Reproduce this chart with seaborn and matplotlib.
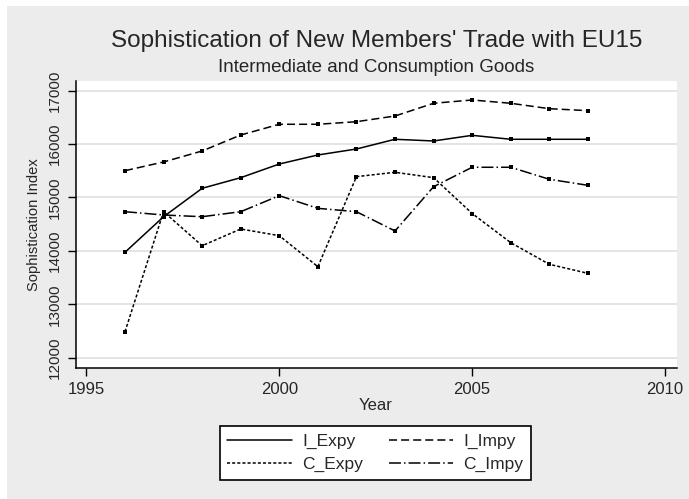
import numpy as np
import pandas as pd
import matplotlib
matplotlib.use("Agg")
import matplotlib.pyplot as plt
import seaborn as sns
from matplotlib.lines import Line2D
from matplotlib.patches import Rectangle

# ---- data ----
years = list(range(1996, 2009))
i_expy = [13974, 14640, 15172, 15371, 15627, 15796, 15908, 16090, 16058, 16164, 16090, 16090, 16090]
i_impy = [15502, 15665, 15871, 16170, 16371, 16371, 16419, 16526, 16764, 16826, 16764, 16663, 16626]
c_expy = [12487, 14734, 14097, 14410, 14285, 13704, 15390, 15472, 15371, 14700, 14154, 13749, 13580]
c_impy = [14734, 14672, 14640, 14734, 15034, 14797, 14734, 14373, 15202, 15566, 15566, 15341, 15228]
series_names = ["I_Expy", "I_Impy", "C_Expy", "C_Impy"]
x_ticks = [1995, 2000, 2005, 2010]
y_ticks = [12000, 13000, 14000, 15000, 16000, 17000]

title = "Sophistication of New Members' Trade with EU15"
subtitle = "Intermediate and Consumption Goods"

df = pd.DataFrame({"Year": years, "I_Expy": i_expy, "I_Impy": i_impy,
                   "C_Expy": c_expy, "C_Impy": c_impy})
long = df.melt(id_vars="Year", var_name="Series", value_name="Index")

sns.set_theme(style="white")
plt.rcParams["font.family"] = ["Liberation Sans", "DejaVu Sans"]
plt.rcParams["lines.scale_dashes"] = False

BG = "#ececec"
W, H = 689, 499
fig = plt.figure(figsize=(W / 100, H / 100), dpi=100, facecolor="white")
fig.patches.append(Rectangle((7 / W, 0), 1, (H - 6) / H, transform=fig.transFigure,
                             facecolor=BG, edgecolor="none", zorder=-10))

left, right, top, bottom = 76, 677, 80.7, 368
ax = fig.add_axes([left / W, 1 - bottom / H, (right - left) / W, (bottom - top) / H])
ax.set_facecolor("white")

dash_map = {"I_Expy": "", "I_Impy": (5.8, 2.9), "C_Expy": (2.2, 1.5), "C_Impy": (8.6, 2.2, 1.1, 2.2)}
marker_map = {s: "s" for s in series_names}

sns.lineplot(data=long, x="Year", y="Index", style="Series", style_order=series_names,
             dashes=dash_map, markers=marker_map, color="black", linewidth=1.1,
             markersize=2.6, markeredgewidth=0, legend=False, ax=ax, zorder=3)

ax.set_xlim(1994.73, 2010.31)
ax.set_ylim(11807, 17187)
ax.set_xticks(x_ticks)
ax.set_yticks(y_ticks)
ax.yaxis.grid(True, color="#e2e2e2", linewidth=1.3)
ax.xaxis.grid(False)
ax.set_axisbelow(True)

for s in ["top", "right"]:
    ax.spines[s].set_visible(False)
for s in ["left", "bottom"]:
    ax.spines[s].set_color("black")
    ax.spines[s].set_linewidth(1.1)

ax.tick_params(axis="x", direction="out", length=6, width=1.0, color="black",
               labelsize=12, pad=4, bottom=True)
ax.tick_params(axis="y", direction="out", length=6, width=1.0, color="black",
               labelsize=11, pad=4, left=True, labelrotation=90)
for lab in ax.get_yticklabels():
    lab.set_va("center")

ax.set_xlabel("Year", fontsize=12, va="baseline")
ax.xaxis.set_label_coords(0.498, (bottom - 410) / (bottom - top))
ax.set_ylabel("Sophistication Index", fontsize=10.6, va="center")
ax.yaxis.set_label_coords((34.5 - left) / (right - left), 0.5)

cx = (left + right) / 2 / W
fig.text(cx, 1 - 47 / H, title, ha="center", va="baseline", fontsize=17.5)
fig.text(cx, 1 - 72 / H, subtitle, ha="center", va="baseline", fontsize=13.5)

handle_map = {}
for s in series_names:
    d = dash_map[s]
    if d == "":
        h = Line2D([], [], color="black", lw=1.1, linestyle="-")
    else:
        h = Line2D([], [], color="black", lw=1.1, dashes=d)
    handle_map[s] = h

# row-wise order: matplotlib fills legend columns first
leg_order = ["I_Expy", "C_Expy", "I_Impy", "C_Impy"]
leg = fig.legend([handle_map[s] for s in leg_order], leg_order, ncol=2, loc="center",
                 bbox_to_anchor=(375.5 / W, 1 - 453 / H), frameon=True, fancybox=False,
                 edgecolor="black", facecolor="white", framealpha=1, fontsize=12.5,
                 handlelength=3.7, handletextpad=0.6, columnspacing=1.5,
                 labelspacing=0.45, borderpad=0.45)
leg.get_frame().set_linewidth(1.2)

fig.savefig("out.png", dpi=100, facecolor=fig.get_facecolor())
